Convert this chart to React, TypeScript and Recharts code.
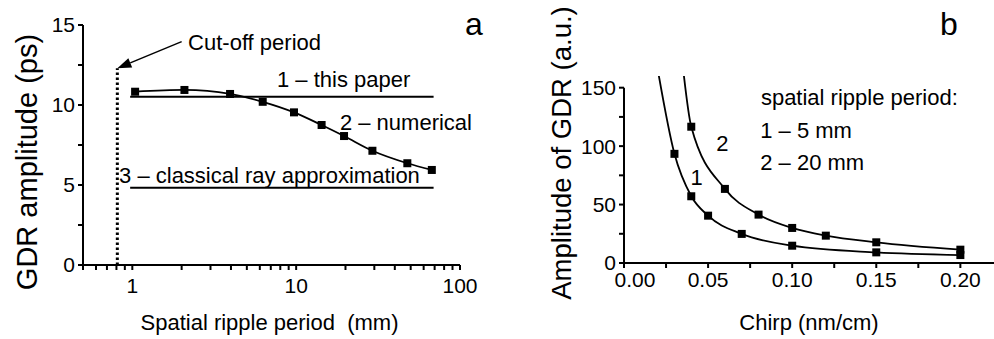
import { Line, LineChart, ReferenceDot, ReferenceLine, XAxis, YAxis, Label } from 'recharts'

const FONT = "'Liberation Sans', Arial, Helvetica, sans-serif"

// panel a: GDR amplitude vs spatial ripple period
const periodNumerical = [1.04, 2.08, 3.95, 6.25, 9.7, 14.3, 19.6, 29.2, 47.7, 67.3]
const gdrNumerical = [10.83, 10.94, 10.69, 10.2, 9.54, 8.75, 8.06, 7.14, 6.36, 5.94]
const periodTheory = [0.97, 69]
const gdrThisPaper = [10.52, 10.52]
const gdrClassical = [4.83, 4.83]
const cutoffPeriod = 0.81
const cutoffTop = 12.3
const periodTicks = [0.5, 0.6, 0.7, 0.8, 0.9, 1, 2, 3, 4, 5, 6, 7, 8, 9, 10, 20, 30, 40, 50, 60, 70, 80, 90, 100]
const gdrTicks = [0, 2.5, 5, 7.5, 10, 12.5, 15]

// panel b: amplitude of GDR vs chirp (first point of each curve lies above the axis top)
const chirp5mm = [0.02, 0.03, 0.04, 0.05, 0.07, 0.1, 0.15, 0.2]
const amp5mm = [166, 93.4, 57.1, 40.5, 24.9, 14.8, 9.1, 6.8]
const chirp20mm = [0.035, 0.04, 0.06, 0.08, 0.1, 0.12, 0.15, 0.2]
const amp20mm = [168, 116.6, 63.4, 41.4, 30, 23.4, 17.7, 11.4]
const chirpTicks = [0, 0.025, 0.05, 0.075, 0.1, 0.125, 0.15, 0.175, 0.2]
const ampTicks = [0, 25, 50, 75, 100, 125, 150]

const numerical = periodNumerical.map((period, i) => ({ period, gdr: gdrNumerical[i] }))
const thisPaper = periodTheory.map((period, i) => ({ period, gdr: gdrThisPaper[i] }))
const classical = periodTheory.map((period, i) => ({ period, gdr: gdrClassical[i] }))
const curve5 = chirp5mm.map((chirp, i) => ({ chirp, amp: amp5mm[i] }))
const curve20 = chirp20mm.map((chirp, i) => ({ chirp, amp: amp20mm[i] }))

// filled square markers; points beyond the last tick get no marker
const squareDot = (key: string, limit: number) => (props: any) => {
  const { cx, cy, index, payload } = props
  if (cx == null || payload[key] > limit) return <g key={`d${index}`} />
  return <rect key={`d${index}`} x={cx - 4} y={cy - 4} width={8} height={8} fill="#000" />
}

// text placed with its baseline-left corner at a data point
const note = (id: string, x: number, y: number, text: string, size = 22) => (
  <ReferenceDot
    key={id}
    x={x}
    y={y}
    r={0}
    fill="none"
    stroke="none"
    ifOverflow="visible"
    label={(p: any) => (
      <text x={p.viewBox.x} y={p.viewBox.y} fontSize={size} fill="#000" fontFamily={FONT}>
        {text}
      </text>
    )}
  />
)

const arrowShape = (p: any) => {
  const { x1, y1, x2, y2 } = p
  const a = Math.atan2(y2 - y1, x2 - x1)
  const len = 14
  const w = 5
  const bx = x2 - len * Math.cos(a)
  const by = y2 - len * Math.sin(a)
  const pts = `${x2},${y2} ${bx + w * Math.sin(a)},${by - w * Math.cos(a)} ${bx - w * Math.sin(a)},${by + w * Math.cos(a)}`
  return (
    <g>
      <line x1={x1} y1={y1} x2={bx} y2={by} stroke="#000" strokeWidth={1.5} />
      <polygon points={pts} fill="#000" />
    </g>
  )
}

// chirp tick labels; the 0.00 label sits a little right of the origin
const chirpTick = (p: any) => {
  const { x, y, payload } = p
  const v: number = payload.value
  const label = Math.abs(v * 20 - Math.round(v * 20)) < 1e-6 ? v.toFixed(2) : ''
  return (
    <text x={v === 0 ? x + 11 : x} y={y} dy="0.71em" textAnchor="middle" fontSize={21} fill="#000" fontFamily={FONT}>
      {label}
    </text>
  )
}

const tickStyle = { fill: '#000', fontSize: 21, fontFamily: FONT }
const axisStroke = { stroke: '#000', strokeWidth: 2 }

function PanelA() {
  return (
    <LineChart width={494} height={339} margin={{ top: 25, right: 34, left: 0, bottom: 0 }}>
      <XAxis
        type="number"
        dataKey="period"
        scale="log"
        domain={[0.5, 100]}
        ticks={periodTicks}
        interval={0}
        tickSize={5}
        tickMargin={8}
        height={74}
        tick={tickStyle}
        axisLine={axisStroke}
        tickLine={axisStroke}
        tickFormatter={(v: number) => ([1, 10, 100].includes(v) ? String(v) : '')}
        allowDuplicatedCategory={false}
      >
        <Label
          content={(p: any) => (
            <text
              x={p.viewBox.x + p.viewBox.width / 2 - 2}
              y={p.viewBox.y + p.viewBox.height - 9}
              textAnchor="middle"
              fontSize={22}
              fill="#000"
              fontFamily={FONT}
            >
              {'Spatial ripple period\u00a0 (mm)'}
            </text>
          )}
        />
      </XAxis>
      <YAxis
        type="number"
        domain={[0, 15]}
        ticks={gdrTicks}
        interval={0}
        width={83}
        tickSize={5}
        tickMargin={3}
        tick={tickStyle}
        axisLine={axisStroke}
        tickLine={axisStroke}
        tickFormatter={(v: number) => (v % 5 === 0 ? String(v) : '')}
      >
        <Label
          content={(p: any) => {
            const x = p.viewBox.x + 37
            const y = p.viewBox.y + p.viewBox.height / 2 + 17
            return (
              <text x={x} y={y} transform={`rotate(-90, ${x}, ${y})`} textAnchor="middle" fontSize={29} fill="#000" fontFamily={FONT}>
                GDR amplitude (ps)
              </text>
            )
          }}
        />
      </YAxis>
      <ReferenceLine
        segment={[{ x: cutoffPeriod, y: 0 }, { x: cutoffPeriod, y: cutoffTop }]}
        stroke="#000"
        strokeWidth={3}
        strokeDasharray="2.5 2.5"
        ifOverflow="visible"
      />
      <ReferenceLine
        segment={[{ x: 2.0, y: 13.96 }, { x: cutoffPeriod, y: cutoffTop }]}
        shape={arrowShape}
        ifOverflow="visible"
      />
      <Line data={thisPaper} dataKey="gdr" stroke="#000" strokeWidth={2} dot={false} isAnimationActive={false} />
      <Line data={classical} dataKey="gdr" stroke="#000" strokeWidth={2} dot={false} isAnimationActive={false} />
      <Line
        data={numerical}
        dataKey="gdr"
        type="monotone"
        stroke="#000"
        strokeWidth={1.8}
        dot={squareDot('gdr', 15)}
        isAnimationActive={false}
      />
      {note('cut', 2.19, 13.44, 'Cut-off period')}
      {note('l1', 7.64, 11.14, '1 – this paper')}
      {note('l2', 18.5, 8.44, '2 – numerical')}
      {note('l3', 0.83, 5.1, '3 – classical ray approximation')}
    </LineChart>
  )
}

function PanelB() {
  return (
    <LineChart width={500} height={339} margin={{ top: 76, right: 0, left: 0, bottom: 0 }}>
      <XAxis
        type="number"
        dataKey="chirp"
        domain={[0, 0.22]}
        ticks={chirpTicks}
        interval={0}
        tickSize={5}
        tickMargin={4}
        height={76}
        tick={chirpTick}
        axisLine={axisStroke}
        tickLine={axisStroke}
        allowDuplicatedCategory={false}
      >
        <Label
          content={(p: any) => (
            <text
              x={p.viewBox.x + p.viewBox.width / 2}
              y={p.viewBox.y + p.viewBox.height - 9}
              textAnchor="middle"
              fontSize={22}
              fill="#000"
              fontFamily={FONT}
            >
              Chirp (nm/cm)
            </text>
          )}
        />
      </XAxis>
      <YAxis
        type="number"
        domain={[0, 160]}
        allowDataOverflow
        ticks={ampTicks}
        interval={0}
        width={130}
        tickSize={5}
        tickMargin={3}
        tick={tickStyle}
        axisLine={false}
        tickLine={axisStroke}
        tickFormatter={(v: number) => (v % 50 === 0 ? String(v) : '')}
      >
        <Label
          content={(p: any) => {
            const x = p.viewBox.x + 77
            const y = 153
            return (
              <text x={x} y={y} transform={`rotate(-90, ${x}, ${y})`} textAnchor="middle" fontSize={27.5} fill="#000" fontFamily={FONT}>
                Amplitude of GDR (a.u.)
              </text>
            )
          }}
        />
      </YAxis>
      <ReferenceLine segment={[{ x: 0, y: 0 }, { x: 0, y: 150 }]} stroke="#000" strokeWidth={2} ifOverflow="visible" />
      <Line
        data={curve5}
        dataKey="amp"
        type="monotone"
        stroke="#000"
        strokeWidth={1.8}
        dot={squareDot('amp', 150)}
        isAnimationActive={false}
      />
      <Line
        data={curve20}
        dataKey="amp"
        type="monotone"
        stroke="#000"
        strokeWidth={1.8}
        dot={squareDot('amp', 150)}
        isAnimationActive={false}
      />
      {note('s0', 0.0814, 135.4, 'spatial ripple period:')}
      {note('s1', 0.081, 107, '1 – 5 mm')}
      {note('s2', 0.081, 79.8, '2 – 20 mm')}
      {note('c2', 0.0548, 95.5, '2')}
      {note('c1', 0.0396, 67, '1')}
    </LineChart>
  )
}

export default function App() {
  return (
    <div style={{ position: 'absolute', left: 0, top: 0, width: 994, height: 339, background: '#fff', fontFamily: FONT }}>
      <div style={{ display: 'flex' }}>
        <PanelA />
        <PanelB />
      </div>
      <svg width={994} height={339} style={{ position: 'absolute', left: 0, top: 0, pointerEvents: 'none' }}>
        <text x={465} y={35} fontSize={32} fill="#000" fontFamily={FONT}>a</text>
        <text x={940} y={35} fontSize={32} fill="#000" fontFamily={FONT}>b</text>
      </svg>
    </div>
  )
}
